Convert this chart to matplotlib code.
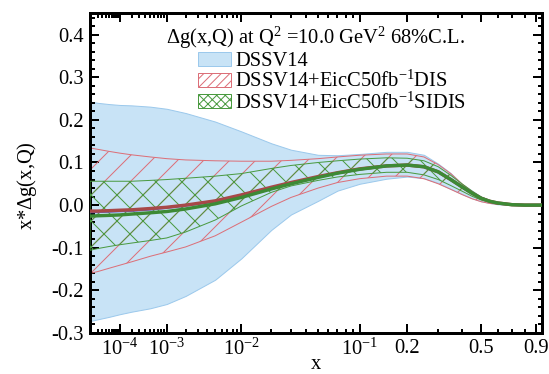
import numpy as np
import matplotlib
matplotlib.use("Agg")
import matplotlib.pyplot as plt
from matplotlib.patches import Patch
from matplotlib.ticker import FixedLocator, FixedFormatter, NullFormatter

DPI = 78
def pt(px):
    return px * 72.0 / DPI

plt.rcParams['font.family'] = ['Liberation Serif', 'DejaVu Serif']
plt.rcParams['mathtext.fontset'] = 'custom'
plt.rcParams['mathtext.rm'] = 'Liberation Serif'
plt.rcParams['mathtext.it'] = 'Liberation Serif:italic'
plt.rcParams['hatch.linewidth'] = pt(1.0)

# ---- data ----
x = [1e-5, 2e-5, 5e-5, 1e-4, 2e-4, 5e-4, 1e-3, 2e-3, 5e-3, 1e-2, 2e-2, 3e-2, 5e-2,
     7e-2, 0.1, 0.15, 0.2, 0.25, 0.3, 0.35, 0.4, 0.45, 0.5, 0.55, 0.6, 0.7, 0.8, 0.95]
dssv_up = [0.243, 0.240, 0.237, 0.235, 0.234, 0.231, 0.226, 0.216, 0.196, 0.173, 0.145,
           0.130, 0.118, 0.117, 0.120, 0.125, 0.125, 0.118, 0.097, 0.075, 0.050, 0.034,
           0.020, 0.012, 0.006, 0.001, 0.0, 0.0]
dssv_lo = [-0.272, -0.268, -0.262, -0.256, -0.250, -0.242, -0.232, -0.213, -0.175, -0.125,
           -0.058, -0.022, 0.010, 0.034, 0.050, 0.062, 0.067, 0.063, 0.052, 0.038, 0.026,
           0.016, 0.009, 0.005, 0.002, 0.0, 0.0, 0.0]
dis_up = [0.134, 0.131, 0.126, 0.122, 0.118, 0.113, 0.109, 0.106, 0.104, 0.103, 0.103,
          0.105, 0.109, 0.113, 0.117, 0.120, 0.120, 0.113, 0.095, 0.074, 0.050, 0.032,
          0.018, 0.010, 0.005, 0.001, 0.0, 0.0]
dis_lo = [-0.160, -0.156, -0.148, -0.141, -0.133, -0.120, -0.110, -0.098, -0.072, -0.040,
          -0.003, 0.018, 0.040, 0.053, 0.062, 0.068, 0.068, 0.062, 0.050, 0.037, 0.025,
          0.015, 0.008, 0.004, 0.002, 0.0, 0.0, 0.0]
sidis_up = [0.056, 0.056, 0.056, 0.056, 0.056, 0.058, 0.060, 0.063, 0.068, 0.074, 0.086,
            0.093, 0.100, 0.104, 0.108, 0.111, 0.110, 0.104, 0.090, 0.070, 0.050, 0.033,
            0.019, 0.011, 0.006, 0.001, 0.0, 0.0]
sidis_lo = [-0.106, -0.102, -0.097, -0.093, -0.089, -0.083, -0.077, -0.063, -0.035, -0.002,
            0.030, 0.045, 0.058, 0.066, 0.072, 0.077, 0.077, 0.071, 0.060, 0.046, 0.033,
            0.021, 0.012, 0.007, 0.003, 0.0, 0.0, 0.0]
dssv_c = [-0.016, -0.016, -0.015, -0.014, -0.013, -0.010, -0.006, -0.001, 0.009, 0.023,
          0.041, 0.052, 0.066, 0.075, 0.084, 0.092, 0.094, 0.090, 0.078, 0.060, 0.043,
          0.028, 0.016, 0.009, 0.005, 0.001, 0.0, 0.0]
dis_c = [-0.014, -0.014, -0.013, -0.012, -0.011, -0.008, -0.005, 0.000, 0.010, 0.024,
         0.042, 0.053, 0.067, 0.076, 0.085, 0.092, 0.094, 0.090, 0.078, 0.060, 0.043,
         0.028, 0.016, 0.009, 0.005, 0.001, 0.0, 0.0]
sidis_c = [-0.026, -0.025, -0.024, -0.023, -0.021, -0.018, -0.015, -0.009, 0.003, 0.018,
           0.038, 0.050, 0.065, 0.075, 0.084, 0.092, 0.094, 0.090, 0.078, 0.060, 0.043,
           0.028, 0.016, 0.009, 0.005, 0.001, 0.0, 0.0]

xticks = [1e-4, 1e-3, 1e-2, 0.1, 0.2, 0.5, 0.9]
xticklabels = [r'$10^{-4}$', r'$10^{-3}$', r'$10^{-2}$', r'$10^{-1}$', '0.2', '0.5', '0.9']
yticks = [-0.3, -0.2, -0.1, 0.0, 0.1, 0.2, 0.3, 0.4]

labels = ['DSSV14', r'DSSV14+EicC50fb$^{-1}$DIS', r'DSSV14+EicC50fb$^{-1}$SIDIS']
title = r'$\Delta$g(x,Q) at Q$^{2}$ =10.0 GeV$^{2}$ 68%C.L.'

blue_fill = '#c8e3f6'
blue_edge = '#9cc9ec'
red = '#dc6f78'
green = '#4a9a40'

FS = pt(20.5)

fig = plt.figure(figsize=(549 / DPI, 374 / DPI), dpi=DPI)
ax = fig.add_axes([90/549, 1-333/374, (541.7-90)/549, (333-13.3)/374])
ax.set_xscale('function', functions=(lambda v: np.power(np.clip(v, 0, None), 0.2),
                                     lambda v: np.power(np.clip(v, 0, None), 5.0)))

xa = np.array(x)
ax.fill_between(xa, dssv_lo, dssv_up, facecolor=blue_fill, edgecolor=blue_edge, lw=pt(1.0), zorder=1)
ax.fill_between(xa, dis_lo, dis_up, facecolor='none', edgecolor=red, hatch='/', lw=pt(1.0), zorder=2)
ax.fill_between(xa, sidis_lo, sidis_up, facecolor='none', edgecolor=green, hatch='x', lw=pt(1.0), zorder=3)
ax.plot(xa, dssv_c, color='#5a6ad0', lw=pt(2.5), zorder=4)
ax.plot(xa, dis_c, color='#a84848', lw=pt(3.4), zorder=5)
ax.plot(xa, sidis_c, color='#3d8a35', lw=pt(3.4), zorder=6)

ax.set_xlim(1e-5, 0.95)
ax.set_ylim(-0.3, 0.45)

ax.xaxis.set_major_locator(FixedLocator(xticks))
ax.xaxis.set_major_formatter(FixedFormatter(xticklabels))
minors = []
for e in range(-5, 0):
    for s in range(1, 10):
        v = s * 10.0 ** e
        if v <= 0.95 and not any(abs(v - t) / t < 1e-6 for t in xticks):
            minors.append(v)
ax.xaxis.set_minor_locator(FixedLocator(minors))
ax.xaxis.set_minor_formatter(NullFormatter())
ax.yaxis.set_major_locator(FixedLocator(yticks))
ax.yaxis.set_major_formatter(FixedFormatter(['%.1f' % v for v in yticks]))
ax.yaxis.set_minor_locator(FixedLocator(np.arange(-0.3, 0.451, 0.02)))

ax.tick_params(which='both', direction='in', top=True, right=True, width=pt(2.0), labelsize=FS)
ax.tick_params(which='major', length=pt(9))
ax.tick_params(which='minor', length=pt(4.5))
ax.tick_params(axis='x', pad=pt(6))
ax.tick_params(axis='y', pad=pt(6))
for sp in ax.spines.values():
    sp.set_linewidth(pt(3.0))

ax.set_xlabel('x', fontsize=FS, labelpad=pt(-5))
ax.set_ylabel(r'x*$\Delta$g(x,Q)', fontsize=FS)
ax.yaxis.set_label_coords(-0.112, 0.46)

ax.text(0.5, 0.923, title, transform=ax.transAxes, ha='center', va='center', fontsize=FS)
handles = [Patch(facecolor=blue_fill, edgecolor=blue_edge, lw=pt(1.0)),
           Patch(facecolor='none', edgecolor=red, hatch='///', lw=pt(1.0)),
           Patch(facecolor='none', edgecolor=green, hatch='xxx', lw=pt(1.0))]
ax.legend(handles, labels, loc='upper left', bbox_to_anchor=(0.24, 0.88), frameon=False,
          fontsize=FS, handlelength=1.6, handleheight=0.7, handletextpad=0.2,
          labelspacing=0.0, borderpad=0.0, borderaxespad=0.0)

fig.savefig('out.png', dpi=DPI)
